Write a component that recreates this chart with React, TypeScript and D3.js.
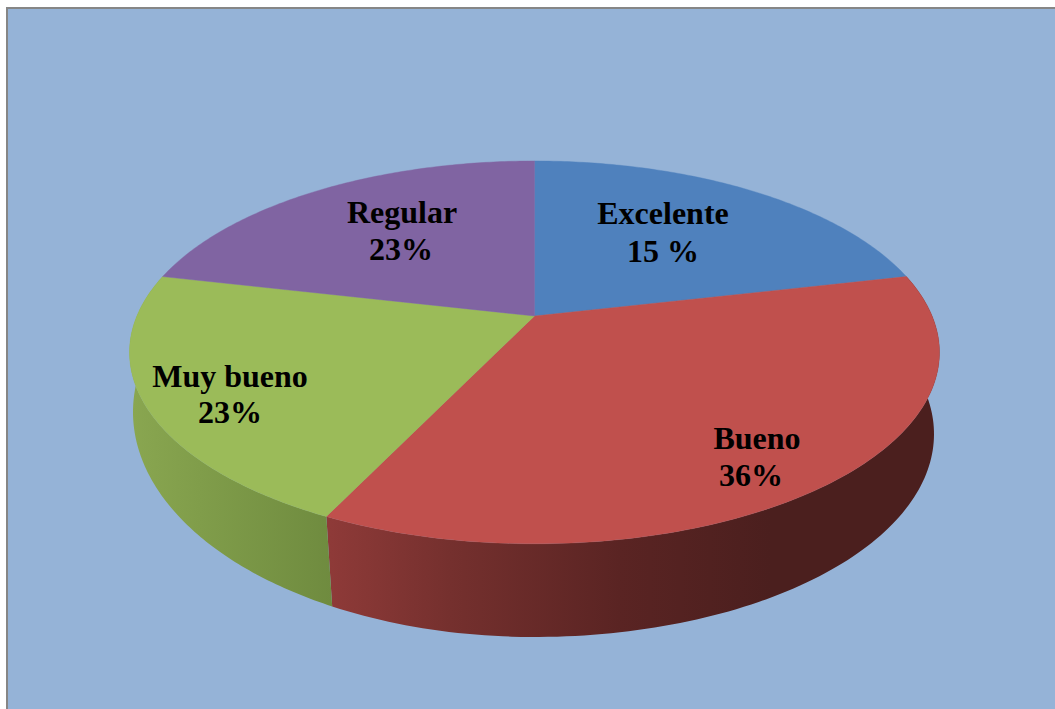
import React, { useMemo } from "react";
import * as d3 from "d3";

// Data
const categories = ["Excelente", "Bueno", "Muy bueno", "Regular"];
const values = [3, 5, 3, 3];
const percentLabels = ["15 %", "36%", "23%", "23%"];
const topColors = ["#4F81BD", "#C0504D", "#9BBB59", "#8064A2"];

const W = 1055;
const H = 709;

const K = 0.19;
const topPlane = { x0: 534.5, y0: 316, A: 397.6, B: 184.5, k: K };

// The lower edge of the wall is a little lopsided: two half ellipses
const baseCx = 534;
const baseLeft = { rx: 401, cy: 412, ry: 225 };
const baseRight = { rx: 400, cy: 434, ry: 203 };
const baseTwist = 0.0105;

// Perspective projection of a point on the top rim
const projectTop = (t: number): [number, number] => {
  const d = 1 + topPlane.k * Math.cos(t);
  return [topPlane.x0 + (topPlane.A * Math.sin(t)) / d, topPlane.y0 - (topPlane.B * Math.cos(t)) / d];
};

// The matching point on the lower edge
const projectBase = (angle: number): [number, number] => {
  const t = angle - baseTwist;
  const s = Math.sin(t);
  const half = s >= 0 ? baseRight : baseLeft;
  const d = 1 + K * Math.cos(t);
  const u = (Math.sqrt(1 - K * K) * s) / d; // -1..1 across the width
  const c = Math.sqrt(Math.max(0, 1 - u * u));
  const lower = Math.cos(t) < -K;
  return [baseCx + half.rx * u, half.cy + (lower ? 1 : -1) * half.ry * c];
};

const rim = (f: (t: number) => [number, number], a: number, b: number): [number, number][] =>
  d3.range(0, 121).map((i) => f(a + ((b - a) * i) / 120));

const line = d3.line<[number, number]>();

// Wall shading: [x position, colour]
const wallStops: Record<string, [number, string][]> = {
  Bueno: [
    [330, "#8E3A38"],
    [450, "#75302E"],
    [620, "#5A2423"],
    [770, "#4B1F1E"],
    [940, "#4B1F1E"],
  ],
  "Muy bueno": [
    [133, "#89A650"],
    [200, "#809D4A"],
    [332, "#6F8B3F"],
  ],
};

const labelPositions = [
  { x: 663, y1: 224, x2: 663, y2: 262 },
  { x: 757, y1: 449, x2: 751, y2: 486 },
  { x: 230, y1: 387, x2: 230, y2: 423 },
  { x: 402, y1: 223, x2: 401, y2: 260 },
];

export default function App() {
  const arcs = useMemo(
    () =>
      d3
        .pie<number>()
        .sort(null)
        .startAngle(0)
        .endAngle(2 * Math.PI)(values),
    []
  );

  return (
    <svg
      width={W}
      height={H}
      viewBox={`0 0 ${W} ${H}`}
      style={{ position: "fixed", left: 0, top: 0, display: "block", background: "#fff" }}
    >
      <defs>
        {categories
          .filter((c) => wallStops[c])
          .map((c, i) => {
            const stops = wallStops[c];
            const x1 = stops[0][0];
            const x2 = stops[stops.length - 1][0];
            const off = d3.scaleLinear().domain([x1, x2]).range([0, 1]);
            return (
              <linearGradient key={c} id={`wall${i}`} gradientUnits="userSpaceOnUse" x1={x1} x2={x2} y1={0} y2={0}>
                {stops.map(([x, col]) => (
                  <stop key={x} offset={off(x)} stopColor={col} />
                ))}
              </linearGradient>
            );
          })}
      </defs>
      <rect x={7} y={8} width={W + 40} height={H + 40} fill="#95B3D7" stroke="#868686" strokeWidth={2} />

      {categories
        .filter((c) => wallStops[c])
        .map((c, i) => {
          const a = arcs[categories.indexOf(c)];
          const pts = [...rim(projectTop, a.startAngle, a.endAngle), ...rim(projectBase, a.endAngle, a.startAngle)];
          return <path key={c} d={line(pts) + "Z"} fill={`url(#wall${i})`} />;
        })}

      {arcs.map((a, i) => {
        const pts: [number, number][] = [[topPlane.x0, topPlane.y0], ...rim(projectTop, a.startAngle, a.endAngle)];
        return <path key={categories[i]} d={line(pts) + "Z"} fill={topColors[i]} stroke={topColors[i]} strokeWidth={0.4} />;
      })}

      <g fontFamily="'Liberation Serif', serif" fontWeight="bold" fontSize={32} fill="#000" textAnchor="middle">
        {categories.map((c, i) => (
          <g key={c}>
            <text x={labelPositions[i].x} y={labelPositions[i].y1}>{c}</text>
            <text x={labelPositions[i].x2} y={labelPositions[i].y2}>{percentLabels[i]}</text>
          </g>
        ))}
      </g>
    </svg>
  );
}
